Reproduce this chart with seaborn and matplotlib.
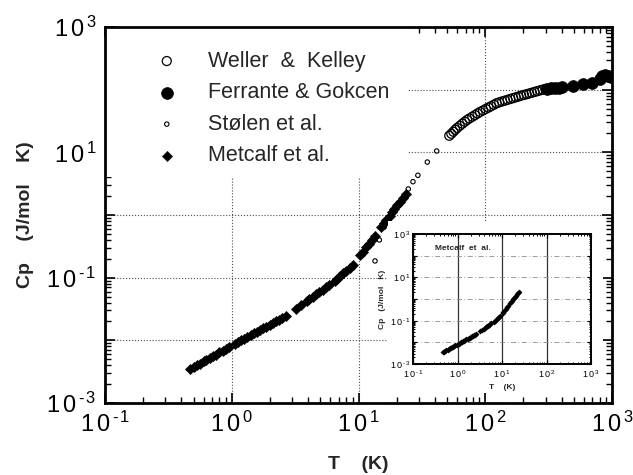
import matplotlib
matplotlib.use("Agg")
import matplotlib.pyplot as plt
import seaborn as sns
from matplotlib.patches import Rectangle

# Weller & Kelley (open circles), T in K, Cp in J/mol K
wk_T = [52, 54, 56, 58, 60, 63, 66, 69, 72, 75, 79, 83, 87, 91, 96, 101, 106,
        111, 117, 123, 129, 136, 143, 150, 158, 166, 174, 183, 192, 202, 212,
        222, 233, 245, 257, 270, 284, 298]
wk_cp = [18.4, 19.8, 21.3, 22.9, 24.5, 26.5, 28.7, 30.8, 32.9, 34.7, 37.0,
         39.3, 41.7, 44.1, 46.6, 49.3, 51.8, 54.4, 57.5, 60.8, 62.8, 65.0,
         66.8, 68.9, 71.1, 73.3, 75.5, 77.8, 80.2, 82.4, 84.7, 86.9, 89.3,
         92.0, 94.6, 97.3, 100.0, 102.8]

# Ferrante & Gokcen (filled circles)
fg_T = [305, 330, 355, 380, 403, 492, 590, 695, 800, 840, 880, 930, 990]
fg_cp = [104, 106, 107, 108, 110, 116, 123, 130, 150, 163, 170, 168, 158]

# Stolen et al. (small open circles)
st_T = [13.5, 14.6, 15.9, 24.7, 26.9, 29.4, 34.9, 41.4]
st_cp = [0.185, 0.40, 0.64, 2.6, 3.4, 4.3, 7.0, 10.5]

# Metcalf et al. (diamonds)
mc_T = [0.47, 0.50, 0.53, 0.56, 0.60, 0.63, 0.67, 0.71, 0.75, 0.80, 0.85,
        0.90, 0.95, 1.06, 1.12, 1.19, 1.26, 1.33, 1.41, 1.50, 1.58, 1.68,
        1.78, 1.88, 2.00, 2.11, 2.24, 2.37, 2.51, 2.66, 3.2, 3.5, 3.9, 4.1,
        4.35, 4.6, 4.9, 5.2, 5.5, 5.8, 6.5, 6.8, 7.2, 7.6, 8.0, 8.5, 9.0,
        10.3, 10.8, 11.4, 12.0, 12.7, 13.4, 15.0, 15.8, 16.6, 17.6, 18.4,
        19.2, 20.3, 21.3, 22.5, 23.7]
mc_cp = [0.0035, 0.00374, 0.0040, 0.00426, 0.0046, 0.00486, 0.0052, 0.00556,
         0.0059, 0.0064, 0.0068, 0.00727, 0.00773, 0.00875, 0.0093, 0.00996,
         0.0106, 0.0113, 0.0120, 0.0129, 0.0136, 0.0146, 0.0156, 0.0165,
         0.0177, 0.0188, 0.0201, 0.0214, 0.0228, 0.0247, 0.0321, 0.0366,
         0.0427, 0.0459, 0.0499, 0.0542, 0.0593, 0.0646, 0.070, 0.0755,
         0.0891, 0.0968, 0.107, 0.119, 0.130, 0.145, 0.161, 0.231, 0.261,
         0.303, 0.348, 0.406, 0.469, 0.635, 0.733, 0.835, 0.977, 1.11, 1.24,
         1.44, 1.64, 1.90, 2.19]

x_ticks = [0.1, 1, 10, 100, 1000]
x_exps = ["-1", "0", "1", "2", "3"]
y_ticks = [1e-3, 1e-2, 1e-1, 1, 10, 100, 1000]
y_exps = ["-3", "", "-1", "", "1", "", "3"]

sns.set_theme(style="ticks")
plt.rcParams["font.family"] = ["Liberation Sans", "DejaVu Sans"]
plt.rcParams["mathtext.fontset"] = "custom"
plt.rcParams["mathtext.rm"] = "Liberation Sans"
plt.rcParams["mathtext.it"] = "Liberation Sans:italic"
plt.rcParams["mathtext.bf"] = "Liberation Sans:bold"


def pow_label(e):
    if e == "":
        return ""
    e = e.replace("-", r"\text{-}\,")
    return r"$\mathdefault{1\,0^{\,%s}}$" % e


def style_log_axes(ax, labelsize, major_len, minor_len, lw, xpad, ypad):
    ax.set_xscale("log")
    ax.set_yscale("log")
    ax.set_xlim(0.1, 1000)
    ax.set_ylim(1e-3, 1e3)
    ax.set_xticks(x_ticks)
    ax.set_xticklabels([pow_label(e) for e in x_exps])
    ax.set_yticks(y_ticks)
    ax.set_yticklabels([pow_label(e) for e in y_exps])
    ax.tick_params(which="both", direction="in", top=True, right=True,
                   colors="black", labelsize=labelsize)
    ax.tick_params(axis="x", pad=xpad)
    ax.tick_params(axis="y", pad=ypad)
    ax.tick_params(which="major", length=major_len, width=lw * 0.6)
    ax.tick_params(which="minor", length=minor_len, width=lw * 0.5)
    for s in ax.spines.values():
        s.set_linewidth(lw)
        s.set_color("black")


fig = plt.figure(figsize=(6.33, 4.75), dpi=100)
ax = fig.add_axes([105 / 633, 72 / 475, 507 / 633, 376 / 475])

sns.scatterplot(x=wk_T, y=wk_cp, ax=ax, marker="o", s=42, color="black",
                facecolors="none", edgecolor="black", linewidth=0.9,
                label="Weller  &  Kelley", zorder=3)
sns.scatterplot(x=fg_T, y=fg_cp, ax=ax, marker="o", s=72, color="black",
                edgecolor="black", linewidth=0.5,
                label="Ferrante & Gokcen", zorder=3)
sns.scatterplot(x=st_T, y=st_cp, ax=ax, marker="o", s=10, color="black",
                facecolors="none", edgecolor="black", linewidth=0.8,
                label="Stølen et al.", zorder=3)
sns.scatterplot(x=mc_T, y=mc_cp, ax=ax, marker="D", s=28, color="black",
                edgecolor="black", linewidth=0.3,
                label="Metcalf et al.", zorder=3)

style_log_axes(ax, 17, 7, 4, 2.0, 6, 6)
ax.grid(which="major", ls=":", color="0.3", lw=0.8)
ax.set_xlabel("T    (K)", fontsize=14, fontweight="bold", labelpad=14)
ax.set_ylabel("Cp    (J/mol    K)", fontsize=14, fontweight="bold",
              labelpad=9)

# blank area behind the legend
ax.add_patch(Rectangle((0, 0.601), 0.596, 0.399, transform=ax.transAxes,
                       facecolor="white", edgecolor="none", zorder=1))
ax.legend(loc="upper left", bbox_to_anchor=(0.1006, 0.937), frameon=False,
          fontsize=15.5, handlelength=1.0, handletextpad=1.4,
          labelspacing=0.49, borderpad=0, borderaxespad=0, scatterpoints=1)

# white box behind the inset
fig.add_artist(Rectangle((388 / 633, 83 / 475), 215 / 633, 171 / 475,
                         transform=fig.transFigure, facecolor="white",
                         edgecolor="none", zorder=1))

ins = fig.add_axes([413 / 633, 111 / 475, 178 / 633, 130 / 475])
ins.set_zorder(2)
sns.scatterplot(x=mc_T, y=mc_cp, ax=ins, marker="D", s=9, color="black",
                edgecolor="black", linewidth=0, legend=False)
style_log_axes(ins, 6.5, 3, 1.5, 1.4, 3.0, 2.0)
ins.grid(axis="x", which="major", ls="-", color="0.2", lw=0.9)
ins.grid(axis="y", which="major", ls=(0, (6, 3, 1, 3)), color="0.55", lw=0.6)
ins.text(0.124, 0.885, "Metcalf  et  al.", transform=ins.transAxes,
         fontsize=6, fontweight="bold", va="center")
ins.set_xlabel("T    (K)", fontsize=6, fontweight="bold", labelpad=3)
ins.set_ylabel("Cp   (J/mol   K)", fontsize=6, fontweight="bold", labelpad=3)

fig.savefig("out.png", dpi=100)
